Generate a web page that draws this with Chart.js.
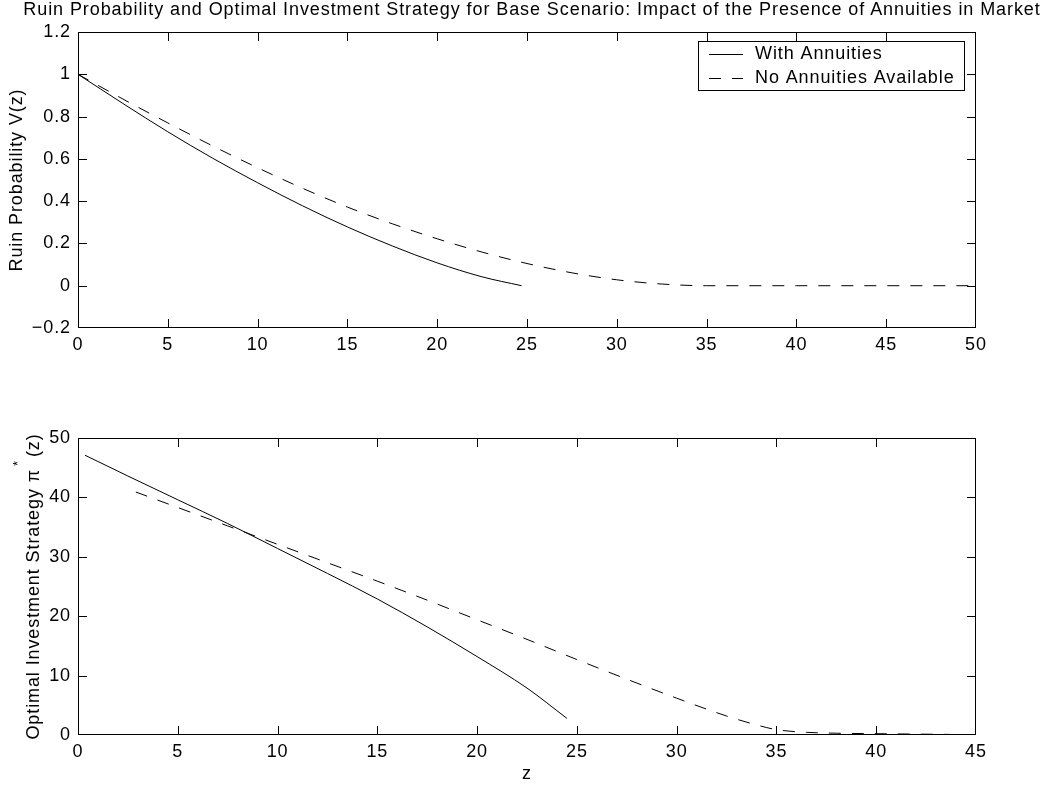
<!DOCTYPE html>
<html>
<head>
<meta charset="utf-8">
<script src="https://cdn.jsdelivr.net/npm/chart.js@4.4.1/dist/chart.umd.min.js"></script>
<style>
  html, body { margin: 0; padding: 0; background: #fff; }
  #page { position: relative; width: 1049px; height: 793px; overflow: hidden; }
  #title {
    position: absolute; left: 0; top: -1px; width: 1064px;
    text-align: center; white-space: nowrap; letter-spacing: 0.92px;
    font: 18px "Liberation Sans", Arial, Helvetica, sans-serif; line-height: 20px; color: #000;
  }
  #topChart { position: absolute; left: 0; top: 0; }
  #bottomChart { position: absolute; left: 0; top: 400px; }
</style>
</head>
<body>
<div id="page">
  <canvas id="topChart" width="1049" height="390"></canvas>
  <canvas id="bottomChart" width="1049" height="393"></canvas>
  <div id="title">Ruin Probability and Optimal Investment Strategy for Base Scenario: Impact of the Presence of Annuities in Market</div>
</div>
<script>
// ruin probability V(z), top panel
const zRuinWith = [0, 2.5, 5, 7.5, 10, 12.5, 15, 17.5, 20, 22.5, 24.7];
const ruinWith = [1.0, 0.862, 0.728, 0.603, 0.487, 0.378, 0.278, 0.188, 0.108, 0.042, 0.0];

const zRuinNo = [0, 2.5, 5, 7.5, 10, 12.5, 15, 17.5, 20, 22.5, 25, 27.5, 30, 32.5, 35, 40, 45, 50];
const ruinNo = [1.0, 0.883, 0.77, 0.661, 0.558, 0.461, 0.372, 0.293, 0.222, 0.159, 0.105, 0.061, 0.028, 0.008, 0.0, 0.0, 0.0, 0.0];

// optimal investment strategy pi*(z), bottom panel
const zPiWith = [0.35, 2.5, 5, 7.5, 10, 12.5, 15, 17.5, 20, 22.5, 24.5];
const piWith = [47.1, 43.6, 39.6, 35.6, 31.4, 27.2, 22.9, 18.2, 13.2, 7.9, 2.8];

const zPiNo = [2.9, 5, 7.5, 10, 12.5, 15, 17.5, 20, 22.5, 25, 27.5, 30, 32.5, 34, 35, 36.5, 38, 40, 42, 43.7];
const piNo = [40.9, 38.3, 35.2, 32.1, 29.0, 25.9, 22.7, 19.4, 16.1, 12.7, 9.4, 6.2, 3.2, 1.7, 0.9, 0.45, 0.3, 0.22, 0.15, 0.1];

const seriesNames = ["With Annuities", "No Annuities Available"];

const topXTicks = ["0", "5", "10", "15", "20", "25", "30", "35", "40", "45", "50"];
const topYTicks = ["\u22120.2", "0", "0.2", "0.4", "0.6", "0.8", "1", "1.2"];
const bottomXTicks = ["0", "5", "10", "15", "20", "25", "30", "35", "40", "45"];
const bottomYTicks = ["0", "10", "20", "30", "40", "50"];

const FONT = '"Liberation Sans", Arial, Helvetica, sans-serif';
const FSIZE = 18;
Chart.defaults.font.family = FONT;
Chart.defaults.font.size = FSIZE;
Chart.defaults.color = "#000";

const DASH = [12, 11];

function pts(xs, ys) {
    return xs.map((x, i) => ({ x: x, y: ys[i] }));
}

// wider glyph spacing, like the screen rendering of the original
const spacing = {
    id: "spacing",
    beforeDraw(chart) {
        chart.ctx.letterSpacing = "0.9px";
    }
};

// box around the plot with inward ticks on all four sides
const frameTicks = {
    id: "frameTicks",
    afterDatasetsDraw(chart) {
        const { ctx, chartArea: a, scales: { x, y } } = chart;
        const len = 9;
        ctx.save();
        ctx.strokeStyle = "#000";
        ctx.lineWidth = 1;
        ctx.setLineDash([]);
        ctx.beginPath();
        x.ticks.slice(1, -1).forEach(t => {
            const px = Math.round(x.getPixelForValue(t.value)) + 0.5;
            ctx.moveTo(px, a.bottom); ctx.lineTo(px, a.bottom - len);
            ctx.moveTo(px, a.top); ctx.lineTo(px, a.top + len);
        });
        y.ticks.slice(1, -1).forEach(t => {
            const py = Math.round(y.getPixelForValue(t.value)) + 0.5;
            ctx.moveTo(a.left, py); ctx.lineTo(a.left + len, py);
            ctx.moveTo(a.right, py); ctx.lineTo(a.right - len, py);
        });
        ctx.stroke();
        ctx.strokeRect(a.left + 0.5, a.top + 0.5, a.right - a.left - 1, a.bottom - a.top - 1);
        ctx.restore();
    }
};

// legend box inside the top plot
const insideLegend = {
    id: "insideLegend",
    afterDraw(chart, args, opts) {
        if (!opts.show) return;
        const { ctx, chartArea: a } = chart;
        const w = 267, h = 50;
        const left = a.right - 11 - w, top = a.top + 9;
        ctx.save();
        ctx.fillStyle = "#fff";
        ctx.fillRect(left, top, w, h);
        ctx.strokeStyle = "#000";
        ctx.lineWidth = 1;
        ctx.strokeRect(left + 0.5, top + 0.5, w - 1, h - 1);
        ctx.font = FSIZE + "px " + FONT;
        ctx.textBaseline = "middle";
        ctx.fillStyle = "#000";
        chart.data.datasets.forEach((ds, i) => {
            const cy = Math.round(top + 13 + i * 23.5) + 0.5;
            ctx.setLineDash(ds.borderDash || []);
            ctx.beginPath();
            ctx.moveTo(left + 11, cy);
            ctx.lineTo(left + 45, cy);
            ctx.stroke();
            ctx.fillText(ds.label, left + 57, cy);
        });
        ctx.restore();
    }
};

// y title with superscript star for the bottom plot
const supTitle = {
    id: "supTitle",
    afterDraw(chart, args, opts) {
        if (!opts.text) return;
        const { ctx, chartArea: a } = chart;
        ctx.save();
        ctx.translate(opts.x, (a.top + a.bottom) / 2);
        ctx.rotate(-Math.PI / 2);
        ctx.fillStyle = "#000";
        ctx.textBaseline = "middle";
        ctx.font = FSIZE + "px " + FONT;
        const w1 = ctx.measureText(opts.text).width;
        const w3 = ctx.measureText(opts.after).width;
        ctx.font = "13px " + FONT;
        const w2 = ctx.measureText("*").width;
        const total = w1 + w2 + w3;
        let cx = -total / 2;
        ctx.font = FSIZE + "px " + FONT;
        ctx.fillText(opts.text, cx, 0);
        cx += w1;
        ctx.font = "13px " + FONT;
        ctx.fillText("*", cx - 3, -16);
        cx += w2;
        ctx.font = FSIZE + "px " + FONT;
        ctx.fillText(opts.after, cx, 0);
        ctx.restore();
    }
};

function lineSet(label, data, dash) {
    return {
        label: label,
        data: data,
        borderColor: "#000",
        borderWidth: 1,
        borderDash: dash,
        pointRadius: 0,
        fill: false,
        cubicInterpolationMode: "monotone"
    };
}

function makeChart(id, cfg) {
    return new Chart(document.getElementById(id), {
        type: "line",
        data: {
            datasets: [
                lineSet(seriesNames[0], cfg.withData, []),
                lineSet(seriesNames[1], cfg.noData, DASH)
            ]
        },
        options: {
            responsive: false,
            animation: false,
            events: [],
            layout: { padding: { left: 0, right: 73, top: cfg.padTop, bottom: 0 } },
            plugins: {
                legend: { display: false },
                tooltip: { enabled: false },
                insideLegend: { show: cfg.legend },
                supTitle: cfg.supTitle || {}
            },
            scales: {
                x: {
                    type: "linear",
                    min: cfg.xMin, max: cfg.xMax,
                    grid: { display: false, drawTicks: false },
                    border: { display: false },
                    ticks: {
                        stepSize: cfg.xStep,
                        padding: 6,
                        maxRotation: 0,
                        autoSkip: false,
                        callback: (v, i) => cfg.xTicks[i]
                    },
                    title: cfg.xTitle ? {
                        display: true, text: cfg.xTitle,
                        padding: { top: 0, bottom: 8 }
                    } : { display: false },
                    afterFit: s => { s.height = cfg.xHeight; }
                },
                y: {
                    min: cfg.yMin, max: cfg.yMax,
                    grid: { display: false, drawTicks: false },
                    border: { display: false },
                    ticks: {
                        stepSize: cfg.yStep,
                        padding: 7,
                        autoSkip: false,
                        callback: (v, i) => cfg.yTicks[i]
                    },
                    title: cfg.yTitle ? {
                        display: true, text: cfg.yTitle,
                        padding: { top: 6, bottom: 0 }
                    } : { display: false },
                    afterFit: s => { s.width = 78; }
                }
            }
        },
        plugins: [spacing, frameTicks, insideLegend, supTitle]
    });
}

makeChart("topChart", {
    withData: pts(zRuinWith, ruinWith),
    noData: pts(zRuinNo, ruinNo),
    padTop: 32, xHeight: 62,
    xMin: 0, xMax: 50, xStep: 5, xTicks: topXTicks,
    yMin: -0.2, yMax: 1.2, yStep: 0.2, yTicks: topYTicks,
    yTitle: "Ruin Probability V(z)",
    legend: true
});

makeChart("bottomChart", {
    withData: pts(zPiWith, piWith),
    noData: pts(zPiNo, piNo),
    padTop: 38, xHeight: 58,
    xMin: 0, xMax: 45, xStep: 5, xTicks: bottomXTicks,
    yMin: 0, yMax: 50, yStep: 10, yTicks: bottomYTicks,
    xTitle: "z",
    supTitle: { text: "Optimal Investment Strategy \u03c0 ", after: "(z)", x: 34 },
    legend: false
});
</script>
</body>
</html>
